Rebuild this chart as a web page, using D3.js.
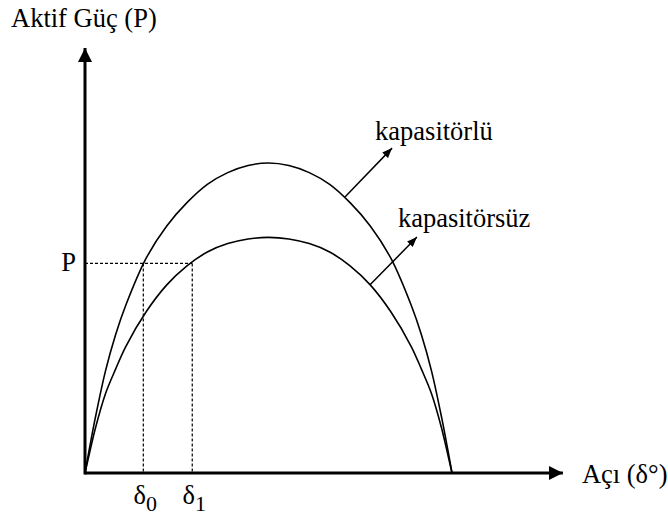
<!DOCTYPE html>
<html>
<head>
<meta charset="utf-8">
<script src="https://cdn.jsdelivr.net/npm/d3@7"></script>
<style>
  html, body { margin: 0; padding: 0; background: #fff; }
  svg { display: block; }
  svg text { font-family: "Liberation Serif", "Times New Roman", serif; }
</style>
</head>
<body>
<svg id="chart" width="668" height="517"></svg>
<script>
// Power–angle curves: δ in degrees, P in percent of the peak with capacitor
const angles = [0, 2, 5, 10, 15, 20, 30, 40, 50, 60, 70, 80, 90, 100, 110, 120, 130, 140, 150, 160, 165, 170, 175, 178, 180];
const withCapPower = [0, 7.3, 17.6, 32.8, 44.6, 54.1, 69.3, 79.6, 87.2, 93.1, 96.9, 99.2, 100, 99.2, 96.9, 93.1, 87.2, 79.6, 69.3, 54.1, 44.6, 32.8, 17.6, 7.3, 0];
const noCapPower = [0, 5.8, 14.2, 25.5, 33.5, 40.8, 52.0, 60.6, 66.8, 71.3, 74.0, 75.5, 76.0, 75.5, 74.0, 71.3, 66.8, 60.6, 52.0, 40.8, 33.5, 25.5, 14.2, 5.8, 0];

// Operating power level and the two load angles that deliver it
const powerLevel = 67.6;
const delta0 = 28.6;
const delta1 = 52.6;

// Axis extents and labels
const angleMax = 234.4;
const powerMax = 137.1;
const yTitle = "Aktif Güç (P)";
const xTitle = "Açı (δ°)";
const curveNames = ["kapasitörlü", "kapasitörsüz"];

// Callout arrows: from a point on each curve to its label
const calloutFrom = [[127.5, 89.0], [139.8, 60.7]];
const calloutTo = [[150.6, 104.8], [162.8, 76.1]];

const svg = d3.select("#chart");

const x = d3.scaleLinear().domain([0, 180]).range([85, 452]);
const y = d3.scaleLinear().domain([0, 100]).range([473, 163]);

// Arrow markers
const defs = svg.append("defs");
defs.append("marker")
  .attr("id", "axisHead")
  .attr("viewBox", "0 0 14 14")
  .attr("refX", 14).attr("refY", 7)
  .attr("markerWidth", 14).attr("markerHeight", 14)
  .attr("markerUnits", "userSpaceOnUse")
  .attr("orient", "auto")
  .append("path").attr("d", "M0,0 L14,7 L0,14 Z").attr("fill", "#000");
defs.append("marker")
  .attr("id", "calloutHead")
  .attr("viewBox", "0 0 10 8")
  .attr("refX", 10).attr("refY", 4)
  .attr("markerWidth", 10).attr("markerHeight", 8)
  .attr("markerUnits", "userSpaceOnUse")
  .attr("orient", "auto")
  .append("path").attr("d", "M0,0 L10,4 L0,8 Z").attr("fill", "#000");

// Dashed guides for P, δ0 and δ1
const guides = svg.append("g")
  .attr("stroke", "#000")
  .attr("stroke-width", 1.2)
  .attr("stroke-dasharray", "3,2")
  .attr("fill", "none");
guides.append("line")
  .attr("x1", x(0)).attr("x2", x(delta1))
  .attr("y1", y(powerLevel)).attr("y2", y(powerLevel));
[delta0, delta1].forEach(d => {
  guides.append("line")
    .attr("x1", x(d)).attr("x2", x(d))
    .attr("y1", y(powerLevel)).attr("y2", y(0));
});

// Curves
const line = d3.line()
  .x(d => x(d[0]))
  .y(d => y(d[1]))
  .curve(d3.curveCatmullRom.alpha(0.5));

const series = [
  d3.zip(angles, withCapPower),
  d3.zip(angles, noCapPower)
];
svg.append("g").selectAll("path")
  .data(series)
  .join("path")
  .attr("d", line)
  .attr("fill", "none")
  .attr("stroke", "#000")
  .attr("stroke-width", 1.6);

// Axes
svg.append("line")
  .attr("x1", x(0)).attr("y1", y(0))
  .attr("x2", x(angleMax)).attr("y2", y(0))
  .attr("stroke", "#000").attr("stroke-width", 3)
  .attr("marker-end", "url(#axisHead)");
svg.append("line")
  .attr("x1", x(0)).attr("y1", y(0) + 1.5)
  .attr("x2", x(0)).attr("y2", y(powerMax))
  .attr("stroke", "#000").attr("stroke-width", 3)
  .attr("marker-end", "url(#axisHead)");

// Callouts
svg.append("g").selectAll("line")
  .data(d3.zip(calloutFrom, calloutTo))
  .join("line")
  .attr("x1", d => x(d[0][0])).attr("y1", d => y(d[0][1]))
  .attr("x2", d => x(d[1][0])).attr("y2", d => y(d[1][1]))
  .attr("stroke", "#000").attr("stroke-width", 1.5)
  .attr("marker-end", "url(#calloutHead)");

const labelOffset = [[-17, -8], [-19, -10]];
svg.append("g").selectAll("text")
  .data(curveNames)
  .join("text")
  .attr("x", (d, i) => x(calloutTo[i][0]) + labelOffset[i][0])
  .attr("y", (d, i) => y(calloutTo[i][1]) + labelOffset[i][1])
  .attr("font-size", 26.5)
  .text(d => d);

// Axis titles
svg.append("text")
  .attr("x", 11).attr("y", 27)
  .attr("font-size", 26.5)
  .text(yTitle);
svg.append("text")
  .attr("x", x(angleMax) + 19).attr("y", y(0) + 10)
  .attr("font-size", 26.5)
  .text(xTitle);

// P label
svg.append("text")
  .attr("x", x(0) - 9).attr("y", y(powerLevel) + 8)
  .attr("text-anchor", "end")
  .attr("font-size", 26.5)
  .text("P");

// δ0 and δ1 labels
[[delta0, "0"], [delta1, "1"]].forEach(([d, sub]) => {
  const t = svg.append("text")
    .attr("x", x(d) + 2).attr("y", y(0) + 31)
    .attr("text-anchor", "middle")
    .attr("font-size", 26.5);
  t.append("tspan").text("δ");
  t.append("tspan").attr("dy", 7).attr("font-size", 22).text(sub);
});
</script>
</body>
</html>
